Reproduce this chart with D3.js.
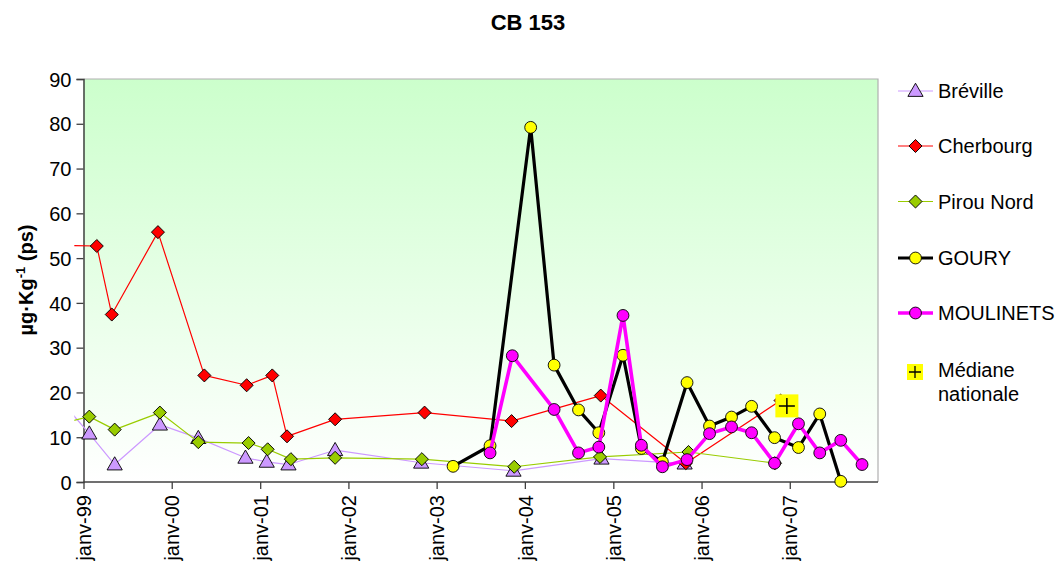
<!DOCTYPE html>
<html><head><meta charset="utf-8">
<script src="https://cdn.jsdelivr.net/npm/d3@7"></script>
<style>body{margin:0;background:#fff;}svg{display:block;font-family:"Liberation Sans",Arial,sans-serif;}</style>
</head><body><svg id="c" width="1059" height="563"></svg>
<script>
const title = "CB 153";
const yTicks = [0,10,20,30,40,50,60,70,80,90];
const xTickYears = [1999,2000,2001,2002,2003,2004,2005,2006,2007];
const xTickLabels = ["janv-99","janv-00","janv-01","janv-02","janv-03","janv-04","janv-05","janv-06","janv-07"];

const brevilleDates = ["1998-11-01","1999-01-25","1999-05-10","1999-11-13","2000-04-20","2000-11-01","2001-01-28","2001-04-28","2001-11-07","2002-10-29","2003-11-15","2004-11-13","2005-10-23"];
const brevilleValues = [16.1,10.8,3.9,12.8,9.8,5.4,4.5,3.9,7.1,4.3,2.5,5.2,4.1];

const cherbourgDates = ["1998-11-01","1999-02-25","1999-04-28","1999-11-05","2000-05-15","2000-11-06","2001-02-20","2001-04-22","2001-11-07","2002-11-12","2003-11-07","2004-11-10","2005-10-28","2006-11-24"];
const cherbourgValues = [52.8,52.7,37.4,55.8,23.8,21.6,23.8,10.2,14.0,15.5,13.6,19.3,4.2,18.2];

const pirouDates = ["1998-11-01","1999-01-25","1999-05-10","1999-11-13","2000-04-20","2000-11-14","2001-02-01","2001-05-08","2001-11-07","2002-11-01","2003-11-18","2004-11-07","2005-11-08","2006-11-01"];
const pirouValues = [13.5,14.6,11.7,15.5,8.9,8.7,7.3,5.1,5.4,5.1,3.4,5.6,6.7,4.2];

const gouryDates = ["2003-03-10","2003-08-10","2004-01-25","2004-05-01","2004-08-10","2004-11-02","2005-02-10","2005-04-27","2005-07-23","2005-11-02","2006-02-03","2006-05-05","2006-07-27","2006-10-30","2007-02-06","2007-05-05","2007-07-31"];
const gouryValues = [3.5,8.1,79.2,26.1,16.1,11.0,28.3,7.5,4.5,22.2,12.5,14.5,16.9,9.9,7.7,15.2,0.15];

const moulinetsDates = ["2003-08-10","2003-11-10","2004-05-01","2004-08-10","2004-11-02","2005-02-10","2005-04-27","2005-07-23","2005-11-02","2006-02-03","2006-05-05","2006-07-27","2006-10-30","2007-02-06","2007-05-05","2007-07-31","2007-10-27"];
const moulinetsValues = [6.5,28.2,16.2,6.5,7.8,37.2,8.2,3.4,5.0,10.8,12.3,11.0,4.2,13.0,6.5,9.3,3.9];

const medianDates = ["2006-12-20"];
const medianValues = [17.0];

const parse = d3.timeParse("%Y-%m-%d");
const svg = d3.select("#c");
const L = 83.5, R = 878, T = 79, B = 482;
const FS = 20;
const x = d3.scaleTime().domain([new Date(1999,0,1), new Date(2008,0,1)]).range([L,R]);
const y = d3.scaleLinear().domain([0,90]).range([B,T]);

const defs = svg.append("defs");
const grad = defs.append("linearGradient").attr("id","bg").attr("x1",0).attr("y1",0).attr("x2",0).attr("y2",1);
grad.append("stop").attr("offset","0%").attr("stop-color","#ccffcc");
grad.append("stop").attr("offset","100%").attr("stop-color","#ffffff");
defs.append("clipPath").attr("id","clipL").append("rect")
  .attr("x", x(parse("1998-11-24"))).attr("y", 0).attr("width", R - x(parse("1998-11-24"))).attr("height", 563);

svg.append("rect").attr("x",L).attr("y",T).attr("width",R-L).attr("height",B-T).attr("fill","url(#bg)");
svg.append("path").attr("d",`M${L},${T}H${R}V${B}`).attr("fill","none").attr("stroke","#b0b0b0").attr("stroke-width",1.2);

// title
svg.append("text").attr("x",528).attr("y",29.5).attr("text-anchor","middle").attr("font-size",22).attr("font-weight","bold").text(title);

// y axis
const yAxis = d3.axisLeft(y).tickValues(yTicks).tickSize(7).tickPadding(5).tickFormat(d3.format("d"));
const ga = svg.append("g").attr("transform",`translate(${L},0)`).call(yAxis);
ga.select(".domain").attr("stroke","#404040").attr("stroke-width",1.5);
ga.selectAll(".tick line").attr("stroke","#404040").attr("stroke-width",1.3);
ga.selectAll(".tick text").attr("font-size",FS).attr("fill","#000").attr("font-family","Liberation Sans, Arial, sans-serif").attr("dy","0.36em");

// x axis
const xAxis = d3.axisBottom(x).tickValues(xTickYears.map(yv=>new Date(yv,0,1))).tickSize(7)
  .tickFormat((d,i)=>xTickLabels[i]);
const gx = svg.append("g").attr("transform",`translate(0,${B})`).call(xAxis);
gx.select(".domain").attr("stroke","#404040").attr("stroke-width",1.5).attr("d",`M${L},0H${R}`);
gx.selectAll(".tick line").attr("stroke","#404040").attr("stroke-width",1.3);
gx.selectAll(".tick text").attr("font-size",FS).attr("fill","#000").attr("font-family","Liberation Sans, Arial, sans-serif")
  .attr("text-anchor","end").attr("transform","rotate(-90)").attr("x",-13).attr("y",0).attr("dy","0.36em");

// y label
svg.append("text").attr("transform","translate(33,280) rotate(-90)").attr("text-anchor","middle")
  .attr("font-size",20).attr("font-weight","bold")
  .html('µg·Kg<tspan dy="-8" font-size="13">-1</tspan><tspan dy="8"> (ps)</tspan>');

function mk(dates, vals){ return dates.map((d,i)=>({date:parse(d), v:vals[i]})); }
const series = [
  {name:"Bréville", data:mk(brevilleDates,brevilleValues), stroke:"#cc99ff", sw:1.2, marker:"triangle", fill:"#cc99ff"},
  {name:"Cherbourg", data:mk(cherbourgDates,cherbourgValues), stroke:"#ff0000", sw:1.2, marker:"diamond", fill:"#ff0000"},
  {name:"Pirou Nord", data:mk(pirouDates,pirouValues), stroke:"#99cc00", sw:1.2, marker:"diamond", fill:"#99cc00"},
  {name:"GOURY", data:mk(gouryDates,gouryValues), stroke:"#000000", sw:3.2, marker:"circle", fill:"#ffff00"},
  {name:"MOULINETS", data:mk(moulinetsDates,moulinetsValues), stroke:"#ff00ff", sw:3.6, marker:"circle", fill:"#ff00ff"}
];
const line = d3.line().x(d=>x(d.date)).y(d=>y(d.v));
const sym = {triangle:d3.symbol().type(d3.symbolTriangle).size(100), diamond:d3.symbol().type(d3.symbolSquare).size(85), circle:d3.symbol().type(d3.symbolCircle).size(110)};

function drawMarker(g, s, px, py){
  const p = g.append("path").attr("d", sym[s.marker]()).attr("fill", s.fill).attr("stroke","#000").attr("stroke-width",0.9);
  if(s.marker==="diamond") p.attr("transform",`translate(${px},${py}) rotate(45)`);
  else if(s.marker==="triangle") p.attr("transform",`translate(${px},${py+1})`);
  else p.attr("transform",`translate(${px},${py})`);
}

series.forEach(s=>{
  const g = svg.append("g");
  g.append("path").attr("d", line(s.data)).attr("fill","none").attr("stroke", s.stroke).attr("stroke-width", s.sw)
    .attr("stroke-linejoin","round").attr("clip-path","url(#clipL)");
  s.data.forEach(d=>{ if(d.date >= x.domain()[0]) drawMarker(g, s, x(d.date), y(d.v)); });
});

// median
const med = mk(medianDates, medianValues);
med.forEach(d=>{
  const g = svg.append("g").attr("transform",`translate(${x(d.date)},${y(d.v)})`);
  g.append("rect").attr("x",-11.5).attr("y",-11.5).attr("width",23).attr("height",23).attr("fill","#ffff00");
  g.append("path").attr("d","M-8,0H8M0,-8V8").attr("stroke","#000").attr("stroke-width",1.5);
});

// legend
const legY = [91,146,201.5,258,313];
series.forEach((s,i)=>{
  const g = svg.append("g").attr("transform",`translate(0,${legY[i]})`);
  g.append("line").attr("x1",898).attr("x2",933).attr("y1",0).attr("y2",0).attr("stroke",s.stroke).attr("stroke-width",s.sw);
  drawMarker(g, s, 915.5, 0);
  g.append("text").attr("x",938).attr("y",0).attr("dy","0.36em").attr("font-size",FS).text(s.name);
});
const lg = svg.append("g").attr("transform","translate(915,372)");
lg.append("rect").attr("x",-8).attr("y",-8).attr("width",16).attr("height",16).attr("fill","#ffff00");
lg.append("path").attr("d","M-6,0H6M0,-6V6").attr("stroke","#000").attr("stroke-width",1.3);
svg.append("text").attr("x",938).attr("y",370).attr("dy","0.36em").attr("font-size",FS).text("Médiane");
svg.append("text").attr("x",938).attr("y",394).attr("dy","0.36em").attr("font-size",FS).text("nationale");
</script></body></html>
